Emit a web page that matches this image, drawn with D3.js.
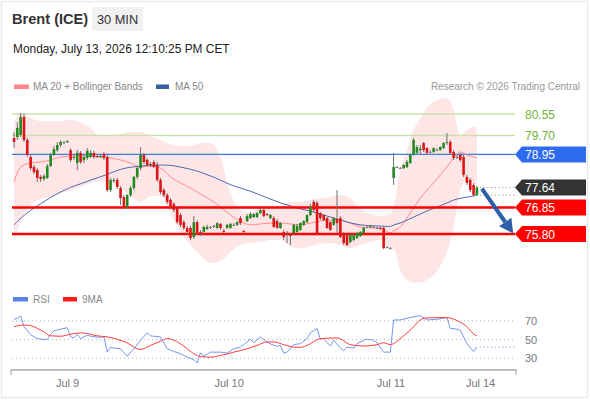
<!DOCTYPE html>
<html><head><meta charset="utf-8">
<script src="https://cdn.jsdelivr.net/npm/d3@7/dist/d3.min.js"></script>
<style>
html,body{margin:0;padding:0;background:#fff;}
svg{display:block;font-family:"Liberation Sans",Arial,sans-serif;}
</style></head>
<body>
<svg id="c" width="590" height="400"></svg>
<script>
// ---------- DATA ----------
const open = [
79.60,79.64,79.72,80.43,79.52,78.85,78.45,78.33,78.06,77.98,
78.02,78.49,78.93,79.12,79.32,79.44,79.44,79.12,78.81,78.61,
79.01,78.73,78.81,78.85,79.01,78.89,78.85,78.97,78.85,77.54,
77.90,77.94,77.62,77.26,76.87,77.34,77.62,78.06,78.41,78.93,
78.73,78.57,78.65,78.53,77.94,77.54,77.34,77.15,76.99,76.83,
76.55,76.27,76.04,76.04,75.68,76.27,75.88,75.88,76.00,76.08,
76.08,76.04,76.20,75.92,76.04,76.04,76.16,76.16,76.43,75.92,
76.31,76.43,76.47,76.47,76.63,76.75,76.59,76.43,76.43,76.31,
76.04,75.88,75.84,75.76,75.84,75.88,75.96,76.16,76.27,76.55,
77.07,77.03,76.63,76.55,76.43,76.27,76.16,76.39,76.43,75.84,
75.76,75.48,75.56,75.64,75.72,75.84,76.08,76.08,76.08,76.04,
76.04,76.04,75.28,75.24,78.02,78.45,78.41,78.41,78.45,78.61,
78.93,79.01,79.12,79.40,79.20,79.05,79.05,79.12,79.12,79.20,
79.40,79.44,79.05,78.85,78.93,78.85,78.06,77.94,77.74,77.34];
const high = [
79.84,80.23,80.59,80.55,79.60,78.93,78.53,78.41,78.14,78.17,
78.57,79.01,79.28,79.44,79.52,79.48,79.52,79.20,78.97,79.12,
79.09,78.93,79.20,79.12,79.09,78.97,78.93,79.05,78.93,78.02,
78.02,78.02,77.70,77.34,77.38,77.70,78.10,78.49,79.24,79.01,
78.81,78.65,78.73,78.65,78.02,77.62,77.42,77.22,77.07,76.91,
76.63,76.35,76.12,76.12,76.51,76.35,75.96,76.12,76.16,76.12,
76.16,76.27,76.23,76.00,76.20,76.23,76.23,76.31,76.51,75.96,
76.59,76.67,76.63,76.67,76.79,76.79,76.63,76.59,76.51,76.39,
76.27,75.96,75.92,75.84,76.20,76.20,76.27,76.35,76.59,76.99,
77.15,77.11,76.67,76.59,76.47,76.31,76.47,77.54,76.51,75.88,
75.80,75.80,75.80,75.88,75.92,76.08,76.12,76.16,76.12,76.08,
76.08,76.08,75.32,75.28,79.01,78.49,78.45,78.57,78.73,78.97,
79.60,79.32,79.32,79.44,79.24,79.12,79.24,79.20,79.28,79.44,
79.80,79.52,79.12,78.93,79.01,78.93,78.14,78.02,77.82,77.70];
const low = [
79.20,79.52,79.64,79.44,78.85,78.33,78.17,77.86,77.86,77.90,
77.98,78.45,78.89,79.05,79.24,79.36,79.40,78.65,78.73,78.33,
78.57,78.61,78.73,78.81,78.77,78.81,78.81,78.73,77.46,77.46,
77.82,77.58,76.95,76.79,76.79,77.26,77.54,77.98,78.33,78.57,
78.49,78.45,78.41,77.86,77.38,77.26,76.99,76.79,76.67,76.20,
76.08,75.96,75.76,75.56,75.60,75.76,75.72,75.80,75.96,76.00,
76.04,76.00,75.96,75.84,76.00,76.00,76.12,76.12,76.16,75.84,
76.27,76.39,76.43,76.43,76.59,76.47,76.51,76.39,76.04,76.00,
76.00,75.56,75.44,75.36,75.80,75.84,75.92,76.12,76.23,76.51,
76.67,75.80,76.35,76.31,76.00,75.92,76.12,75.84,75.64,75.36,
75.32,75.44,75.52,75.60,75.68,75.80,76.04,76.04,76.04,76.00,
75.96,75.20,75.24,75.20,77.74,78.41,78.37,78.37,78.41,78.57,
78.89,78.97,78.93,79.05,78.93,79.01,79.01,79.09,79.09,79.16,
79.32,78.93,78.73,78.77,78.65,78.06,77.74,77.46,77.30,77.30];
const close = [
79.44,80.00,80.43,79.52,78.93,78.41,78.25,78.02,77.98,78.10,
78.49,78.93,79.16,79.32,79.44,79.42,79.48,78.73,78.85,79.01,
78.65,78.85,79.09,79.01,78.85,78.85,78.89,78.81,77.54,77.94,
77.94,77.66,77.22,76.87,77.34,77.62,78.06,78.41,78.93,78.65,
78.53,78.53,78.45,77.94,77.46,77.34,77.07,76.87,76.75,76.27,
76.16,76.04,75.88,75.64,76.27,75.84,75.84,76.08,76.08,76.06,
76.12,76.23,76.04,75.88,76.16,76.20,76.14,76.27,76.23,75.88,
76.51,76.59,76.59,76.63,76.75,76.51,76.55,76.55,76.08,76.04,
76.23,75.68,75.80,75.72,76.16,76.12,76.23,76.31,76.55,76.87,
76.75,75.84,76.43,76.35,76.04,75.96,76.43,76.23,75.68,75.44,
75.36,75.76,75.76,75.84,75.88,76.04,76.06,76.12,76.06,76.02,
76.00,75.24,75.26,75.22,78.45,78.43,78.39,78.53,78.65,78.93,
79.52,79.24,79.18,79.12,79.01,79.03,79.20,79.10,79.24,79.40,
79.44,79.01,78.81,78.83,78.73,78.14,77.82,77.54,77.34,77.64];

// overlay sample bars (bar index) and values
const ovIdx = [0,2,5,8,11,14,17,20,23,26,29,32,35,38,41,44,47,50,53,56,59,62,65,68,71,74,77,80,83,86,89,92,95,98,101,104,107,110,113,114,116,118,120,122,124,126,128,130,132,134,136,138,139];
const ma20 = [77.86,78.45,78.61,78.65,78.73,78.85,78.88,78.90,78.88,78.85,78.81,78.73,78.61,78.45,78.49,78.41,78.06,77.82,77.62,77.38,77.15,76.87,76.55,76.31,76.16,76.20,76.23,76.23,76.20,76.16,76.23,76.31,76.35,76.35,76.23,76.08,76.04,76.04,75.84,75.92,76.08,76.43,76.83,77.22,77.54,77.82,78.14,78.45,78.81,79.05,78.93,78.85,78.81];
const bbUpper = [80.23,80.59,80.39,80.27,80.27,80.27,80.31,80.23,80.00,79.68,79.70,79.76,79.84,79.84,79.68,79.52,79.36,79.28,79.28,79.40,79.40,78.85,77.42,76.75,76.63,76.87,76.91,76.91,77.07,77.07,77.15,77.22,77.26,77.34,77.22,76.79,76.59,76.51,76.59,76.87,78.33,79.12,79.92,80.39,80.79,81.03,81.14,81.18,80.71,79.72,79.92,80.04,80.04];
const bbLower = [75.48,76.31,76.95,77.18,77.26,77.42,77.50,77.66,77.82,77.90,77.86,77.62,77.30,77.07,77.30,77.30,76.59,75.88,75.36,74.97,74.65,74.73,75.09,75.36,75.44,75.48,75.56,75.56,75.32,75.24,75.32,75.40,75.44,75.36,75.24,75.36,75.48,75.56,75.20,75.20,74.37,73.98,73.87,73.87,73.98,74.18,74.53,75.09,76.04,77.54,77.94,77.82,77.70];
const ma50 = [76.16,76.43,76.75,76.99,77.26,77.46,77.66,77.78,77.94,78.06,78.21,78.37,78.45,78.49,78.53,78.53,78.53,78.45,78.37,78.25,78.10,77.94,77.74,77.62,77.50,77.34,77.18,77.03,76.91,76.79,76.71,76.59,76.47,76.35,76.23,76.16,76.12,76.12,76.08,76.16,76.23,76.35,76.47,76.59,76.71,76.83,76.91,77.03,77.15,77.22,77.26,77.30,77.34];

const rsiIdx = [0,1,2,3,5,6,7,9,10,11,12,14,16,17,18,19,20,22,23,25,27,28,29,30,32,34,36,38,40,41,44,46,48,50,52,54,55,56,57,59,62,64,66,68,71,72,74,76,77,79,80,81,82,84,86,88,89,91,92,93,95,96,98,99,100,102,103,105,106,108,109,111,113,114,116,118,120,122,124,127,130,131,133,134,136,138,139];
const rsiVal = [71.7,72.8,75.4,63.8,55.4,52.9,51.1,50,50.4,55.4,59.4,61.2,62.7,52.9,51.8,55.4,51.1,54.7,53.6,52.5,52.9,36.6,41.7,41.0,40.2,32.2,40.2,49.3,57.2,54,52.9,40.2,37.3,34.8,31.2,28.6,25,35.9,32.2,36.6,36.6,35.5,40.2,42,50.4,46.7,52.9,47.5,45.3,42.8,43.8,35.5,36.6,44.6,45.7,51.1,57.2,62,50.4,51.1,43.1,49.3,40.9,38,42,40.9,45.7,49.3,50.4,49.3,46.7,36.6,36.6,71,71,72.8,74.3,75.7,71,71.7,73.5,62,61.2,60.1,45.7,37.3,42];
const rsiMaIdx = [0,3,5,7,9,11,14,17,20,22,25,28,31,34,37,38,41,44,46,48,51,54,56,59,62,66,70,73,76,78,81,84,86,88,92,97,101,105,109,111,113,116,119,123,127,130,134,136,138,139];
const rsiMaVal = [63.8,65.6,64.9,62,58.3,54,53.6,55.8,57.2,56.5,54,52.9,50.4,46.4,40.2,39.5,43.8,48.2,51.1,49.3,43.1,34.8,31.9,31.2,33,36.6,40.2,43.8,47.5,47.5,44.6,42,41.7,43.8,51.1,51.8,44.6,43.1,44.6,46.7,44.6,51.1,60.1,72.8,73.5,73.5,68.5,63.8,56,54];
const rsiTicks = [70, 50, 30];

const resistances = [80.55, 79.70];
const pivot = 78.95;
const lastPrice = 77.64;
const supports = [76.85, 75.80];

const xTickIdx = [16.1, 64.6, 113.2, 140.1];
const xTickLabels = ["Jul 9", "Jul 10", "Jul 11", "Jul 14"];
const arrowFrom = [140.5, 77.60];
const arrowTo = [149.9, 75.82];

// ---------- LAYOUT ----------
const svg = d3.select("#c");
const L = 11, R = 516;           // plot horizontal extent
const x = d3.scaleLinear().domain([0, 139]).range([14, 476.9]);
const y = d3.scaleLinear().domain([75.80, 80.55]).range([234, 114]);
const yr = d3.scaleLinear().domain([30, 70]).range([358.3, 320.9]);

// frame
svg.append("rect").attr("x",1.5).attr("y",1.5).attr("width",586).attr("height",396)
  .attr("fill","none").attr("stroke","#ebebeb").attr("stroke-width",1.5);

// header
svg.append("text").attr("x",12).attr("y",24).attr("font-size",14.6).attr("font-weight","bold")
  .attr("fill","#333").text("Brent (ICE)");
svg.append("rect").attr("x",92).attr("y",7).attr("width",51).attr("height",24).attr("fill","#f1f1f1");
svg.append("text").attr("x",117.5).attr("y",24).attr("text-anchor","middle").attr("font-size",12.8)
  .attr("fill","#333").text("30 MIN");
svg.append("text").attr("x",13).attr("y",53).attr("font-size",11.9).attr("fill","#222")
  .text("Monday, July 13, 2026 12:10:25 PM CET");

// legend
svg.append("rect").attr("x",14).attr("y",84.5).attr("width",15).attr("height",4.5).attr("fill","#ff8585");
svg.append("text").attr("x",33).attr("y",90).attr("font-size",10).attr("fill","#888").text("MA 20 + Bollinger Bands");
svg.append("rect").attr("x",156).attr("y",84.5).attr("width",13).attr("height",4.5).attr("fill","#3a5fa0");
svg.append("text").attr("x",175).attr("y",90).attr("font-size",10).attr("fill","#888").text("MA 50");
svg.append("text").attr("x",580).attr("y",90).attr("text-anchor","end").attr("font-size",10)
  .attr("fill","#999").text("Research \u00a9 2026 Trading Central");

// Bollinger band
const ov = ovIdx.map((d,i)=>({i:d, m:ma20[i], u:bbUpper[i], l:bbLower[i], m50:ma50[i]}));
svg.append("path").datum(ov)
  .attr("d", d3.area().curve(d3.curveMonotoneX).x(d=>x(d.i)).y0(d=>y(d.l)).y1(d=>y(d.u)))
  .attr("fill","#ffe3e3").attr("opacity",0.9);

// resistance / pivot lines
resistances.forEach(v=>{
  svg.append("line").attr("x1",12).attr("x2",515).attr("y1",y(v)).attr("y2",y(v))
    .attr("stroke","#c9e2ad").attr("stroke-width",1.5);
  svg.append("text").attr("x",525).attr("y",y(v)+4.5).attr("font-size",12).attr("fill","#6fb33a")
    .text(v.toFixed(2));
});
svg.append("line").attr("x1",12).attr("x2",515).attr("y1",y(pivot)).attr("y2",y(pivot))
  .attr("stroke","#3d7ce8").attr("stroke-width",1.3);

// MA lines
svg.append("path").datum(ov).attr("d", d3.line().curve(d3.curveMonotoneX).x(d=>x(d.i)).y(d=>y(d.m)))
  .attr("fill","none").attr("stroke","#ff8c8c").attr("stroke-width",1);
svg.append("path").datum(ov).attr("d", d3.line().curve(d3.curveBasis).x(d=>x(d.i)).y(d=>y(d.m50)))
  .attr("fill","none").attr("stroke","#4a68ad").attr("stroke-width",1);

// support lines
supports.forEach(v=>{
  svg.append("line").attr("x1",12).attr("x2",515).attr("y1",y(v)).attr("y2",y(v))
    .attr("stroke","#ff0000").attr("stroke-width",2.4);
});

// candles
const bars = d3.range(open.length).map(i=>({i, o:open[i], h:high[i], l:low[i], c:close[i]}));
const g = svg.append("g");
g.selectAll("line.w").data(bars).enter().append("line")
  .attr("x1",d=>x(d.i)).attr("x2",d=>x(d.i)).attr("y1",d=>y(d.h)).attr("y2",d=>y(d.l))
  .attr("stroke","#707070").attr("stroke-width",1);
g.selectAll("rect.b").data(bars).enter().append("rect")
  .attr("x",d=>x(d.i)-1.3).attr("width",2.6)
  .attr("y",d=>y(Math.max(d.o,d.c)))
  .attr("height",d=>Math.max(1, Math.abs(y(d.o)-y(d.c))))
  .attr("fill",d=>Math.abs(d.o-d.c)<0.03 ? "#777" : (d.c>d.o ? "#1f8a1f" : "#e01414"));

// dotted from last price
const lastI = bars.length-1;
svg.append("line").attr("x1",x(lastI)+3).attr("x2",515).attr("y1",y(lastPrice)).attr("y2",y(lastPrice))
  .attr("stroke","#999").attr("stroke-dasharray","1.2,2.5");
svg.append("line").attr("x1",x(lastI)+3).attr("x2",515).attr("y1",y(ma50[ma50.length-1])).attr("y2",y(ma50[ma50.length-1]))
  .attr("stroke","#999").attr("stroke-dasharray","1.2,2.5");

// arrow
const ax1 = x(arrowFrom[0]), ay1 = y(arrowFrom[1]), ax2 = x(arrowTo[0]), ay2 = y(arrowTo[1]);
const ang = Math.atan2(ay2-ay1, ax2-ax1);
const hl = 14, hw = 7.5;
const bx = ax2 - hl*Math.cos(ang), by = ay2 - hl*Math.sin(ang);
svg.append("line").attr("x1",ax1).attr("y1",ay1).attr("x2",bx).attr("y2",by)
  .attr("stroke","#2e5fa6").attr("stroke-width",4);
svg.append("path").attr("d",`M${ax2},${ay2}L${bx+hw*Math.sin(ang)},${by-hw*Math.cos(ang)}L${bx-hw*Math.sin(ang)},${by+hw*Math.cos(ang)}Z`)
  .attr("fill","#2e5fa6");

// tags
function tag(v, color){
  const yy = y(v);
  svg.append("path").attr("d",`M515,${yy}L522,${yy-8}L586,${yy-8}L586,${yy+8}L522,${yy+8}Z`).attr("fill",color);
  svg.append("text").attr("x",525).attr("y",yy+4.5).attr("font-size",12).attr("fill","#fff").text(v.toFixed(2));
}
tag(pivot, "#2f6bf0");
tag(lastPrice, "#333333");
supports.forEach(v=>tag(v, "#ff0000"));

// ---------- RSI panel ----------
svg.append("rect").attr("x",13).attr("y",297).attr("width",15).attr("height",4.5).attr("fill","#5b80e6");
svg.append("text").attr("x",33).attr("y",302.5).attr("font-size",10).attr("fill","#888").text("RSI");
svg.append("rect").attr("x",63).attr("y",297).attr("width",14).attr("height",4.5).attr("fill","#ff1a1a");
svg.append("text").attr("x",82).attr("y",302.5).attr("font-size",10).attr("fill","#888").text("9MA");

rsiTicks.forEach(v=>{
  svg.append("line").attr("x1",12).attr("x2",515).attr("y1",yr(v)).attr("y2",yr(v))
    .attr("stroke","#b5b5b5").attr("stroke-dasharray","1,3");
  svg.append("text").attr("x",525).attr("y",yr(v)+4).attr("font-size",11).attr("fill","#777").text(v);
});
const rsi = rsiIdx.map((d,i)=>({i:d, v:rsiVal[i]}));
const rsiMa = rsiMaIdx.map((d,i)=>({i:d, v:rsiMaVal[i]}));
svg.append("path").datum(rsi).attr("d", d3.line().x(d=>x(d.i)).y(d=>yr(d.v)))
  .attr("fill","none").attr("stroke","#7596ee").attr("stroke-width",1);
svg.append("path").datum(rsiMa).attr("d", d3.line().curve(d3.curveMonotoneX).x(d=>x(d.i)).y(d=>yr(d.v)))
  .attr("fill","none").attr("stroke","#ff3a3a").attr("stroke-width",1);
svg.append("line").attr("x1",x(lastI)+3).attr("x2",515).attr("y1",yr(rsiVal[rsiVal.length-1])).attr("y2",yr(rsiVal[rsiVal.length-1]))
  .attr("stroke","#7596ee").attr("stroke-dasharray","1.2,2.5");

// x axis
svg.append("line").attr("x1",L).attr("x2",R).attr("y1",370).attr("y2",370).attr("stroke","#bdbdbd").attr("stroke-width",2);
[L, R].forEach(px=>svg.append("line").attr("x1",px).attr("x2",px).attr("y1",369).attr("y2",375)
  .attr("stroke","#bdbdbd").attr("stroke-width",1.5));
xTickIdx.forEach((t,k)=>{
  svg.append("text").attr("x",x(t)).attr("y",387).attr("text-anchor","middle").attr("font-size",11)
    .attr("fill","#777").text(xTickLabels[k]);
});
</script>
</body></html>
